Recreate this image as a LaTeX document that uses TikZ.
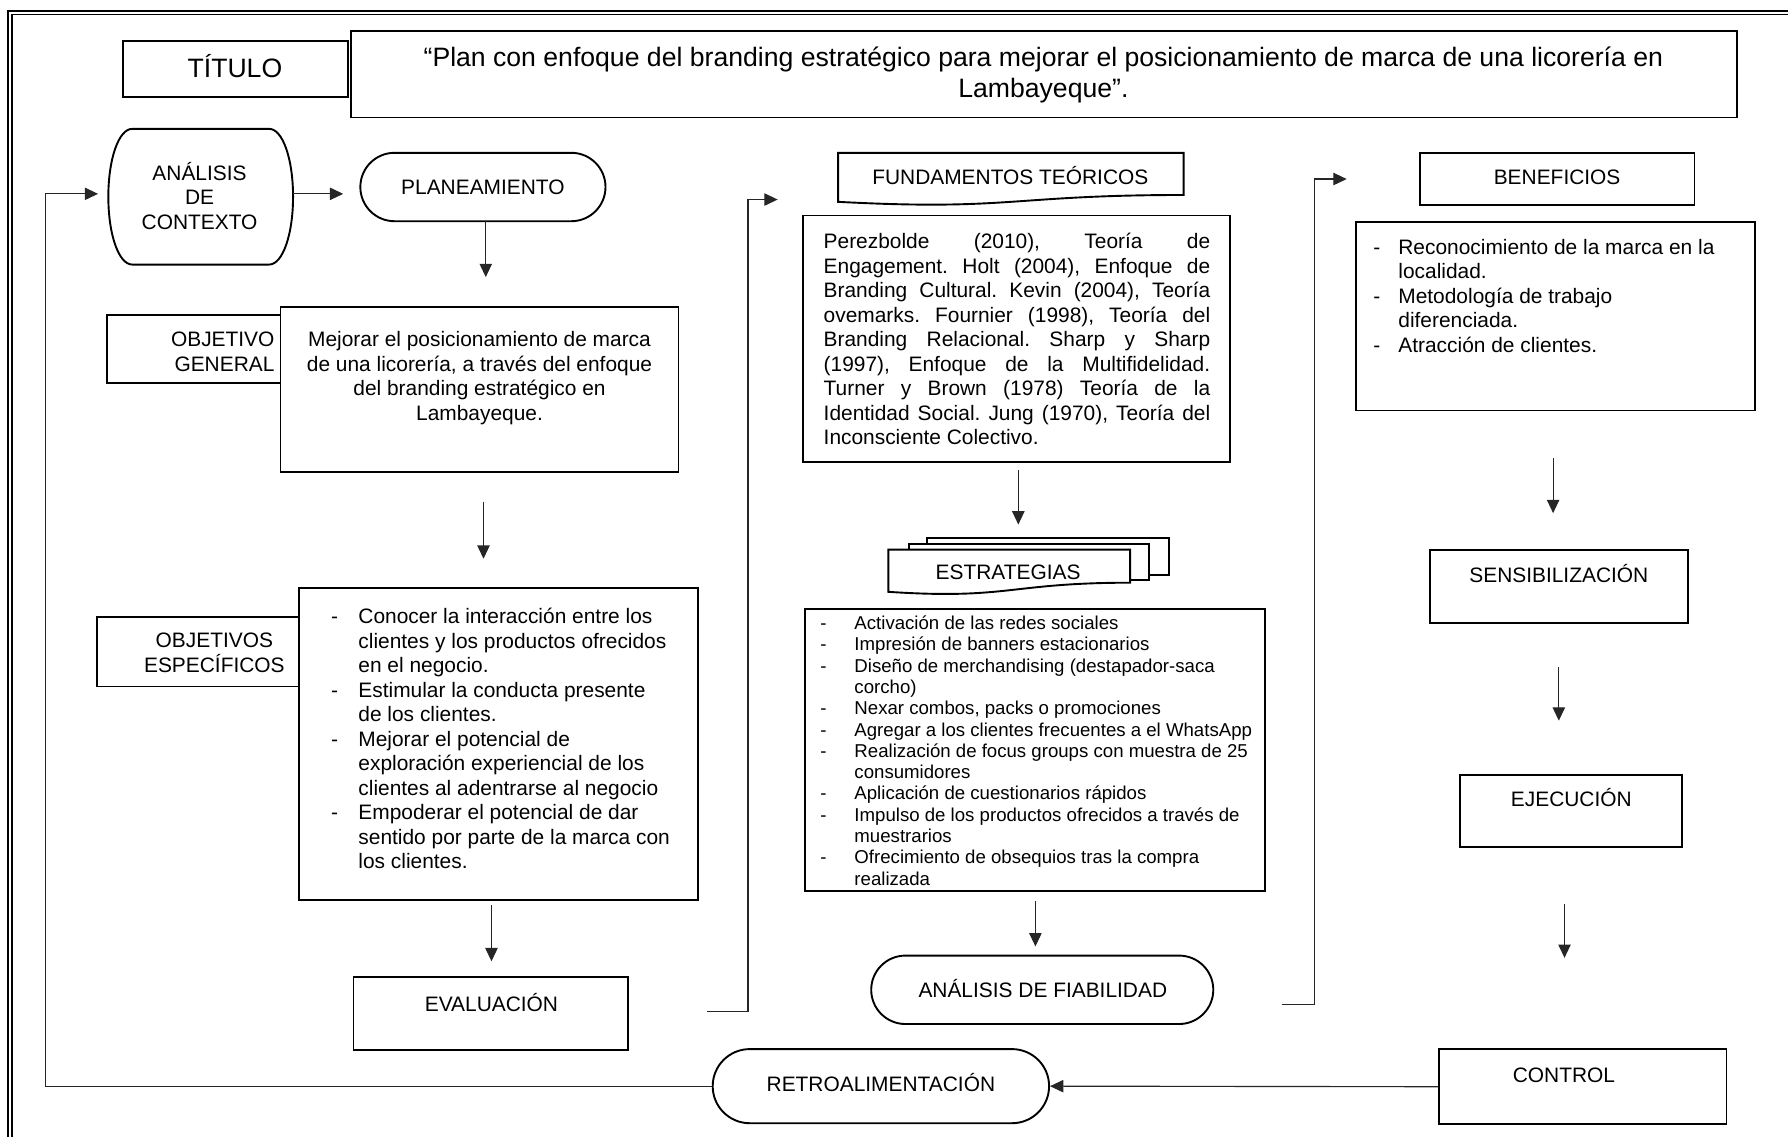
\documentclass[tikz,border=0pt]{standalone}
\usepackage{fontspec}
\setmainfont{Liberation Sans}
\usetikzlibrary{arrows.meta,fit}
\frenchspacing
\newcommand\fmain{\fontsize{11}{12.9}\selectfont}
\newcommand\fsml{\fontsize{9.8}{11.2}\selectfont}
\newcommand\fttl{\fontsize{14}{16.2}\selectfont}
\newcommand\topr[1]{\rule{0pt}{#1}}
\newcommand\itm[2]{\makebox[#1][l]{-}#2}
\newcommand\cnt[2]{\hspace*{#1}#2}
\tikzset{
  bx/.style={draw, line width=1pt, fill=white, inner sep=0pt},
  bxl/.style={draw, line width=1pt, fill=white},
  conn/.style={line width=0.6pt, draw=black!85},
  arr/.style={conn, -{Triangle[length=7pt,width=6.5pt]}},
  txt/.style={inner sep=0pt, font=\fmain},
}
\begin{document}
\begin{tikzpicture}[x=0.6pt,y=-0.6pt]
\useasboundingbox (0,0) rectangle (1568,997);
\clip (0,0) rectangle (1568,997);
% outer frame
\draw[line width=1.3pt] (7,9.5) rectangle (1600,1030);
\draw[line width=0.7pt] (10.5,13) rectangle (1595,1025);

% title
\node[bx, fit={(108,36) (305,85)}] (titbox) {};
\node[txt, font=\fttl, anchor=base] (tittxt) at (206,68.4) {TÍTULO};
\node[bx, fit={(308,27) (1523,103)}] (ttlbox) {};
\node[txt, font=\fttl, align=center, anchor=north] (ttltxt) at (915,35) {\topr{14pt}“Plan con enfoque del branding estratégico para mejorar el posicionamiento de marca de una licorería en\\Lambayeque”.};

% analisis de contexto
\node[inner sep=0pt, fit={(95,113) (257,232)}] (anal) {};
\draw[line width=1pt, fill=white] (116,113) -- (236,113) .. controls (248,113) and (257,139.6) .. (257,172.5) .. controls (257,205.4) and (248,232) .. (236,232) -- (116,232) .. controls (104,232) and (95,205.4) .. (95,172.5) .. controls (95,139.6) and (104,113) .. cycle;
\node[txt, align=center, anchor=north] (analtxt) at (175,139.3) {\topr{11pt}ANÁLISIS\\DE\\CONTEXTO};

% planeamiento
\node[bx, rounded corners=18pt, fit={(316,134) (531,194)}] (plan) {};
\node[txt, anchor=base] (plantxt) at (423.5,170.6) {PLANEAMIENTO};

% objetivo general
\node[bx, fit={(94,276) (252,336)}] (oglab) {};
\node[txt, align=right, anchor=north east] (oglabtxt) at (241,285.3) {\topr{11pt}OBJETIVO\\GENERAL};
\node[bx, fit={(246,269) (595,414)}] (og) {};
\node[txt, align=center, anchor=north] (ogtxt) at (420.5,285.3) {\topr{11pt}Mejorar el posicionamiento de marca\\de una licorería, a través del enfoque\\del branding estratégico en\\Lambayeque.};

% objetivos especificos
\node[bx, fit={(85,541) (264,602)}] (oelab) {};
\node[txt, align=center, anchor=north] (oelabtxt) at (188,549.3) {\topr{11pt}OBJETIVOS\\ESPECÍFICOS};
\node[bx, fit={(262,516) (612,789)}] (oe) {};
\node[txt, align=left, anchor=north west] (oetxt) at (290,528.3) {\topr{11pt}\itm{14.4pt}{Conocer la interacción entre los}\\
\cnt{14.4pt}{clientes y los productos ofrecidos}\\
\cnt{14.4pt}{en el negocio.}\\
\itm{14.4pt}{Estimular la conducta presente}\\
\cnt{14.4pt}{de los clientes.}\\
\itm{14.4pt}{Mejorar el potencial de}\\
\cnt{14.4pt}{exploración experiencial de los}\\
\cnt{14.4pt}{clientes al adentrarse al negocio}\\
\itm{14.4pt}{Empoderar el potencial de dar}\\
\cnt{14.4pt}{sentido por parte de la marca con}\\
\cnt{14.4pt}{los clientes.}};

% evaluacion
\node[bx, fit={(310,857) (551,921)}] (eval) {};
\node[txt, anchor=base] (evaltxt) at (431,886.6) {EVALUACIÓN};

% fundamentos teoricos
\draw[line width=1pt, fill=white] (735,134) -- (1038,134) -- (1038,171) .. controls (886.5,171) and (886.5,185) .. (735,177) -- cycle;
\node[txt, anchor=base] (fund) at (886,161.6) {FUNDAMENTOS TEÓRICOS};
\node[bx, fit={(704,189) (1079,405)}] (perez) {};
\node[txt, text width=203.4pt, align=justify, anchor=north west] (pereztxt) at (722,199.3) {\hyphenpenalty=10000\exhyphenpenalty=10000\frenchspacing\noindent\topr{11pt}Perezbolde (2010), Teoría de\linebreak Engagement. Holt (2004), Enfoque de\linebreak Branding Cultural. Kevin (2004), Teoría\linebreak ovemarks. Fournier (1998), Teoría del\linebreak Branding Relacional. Sharp y Sharp\linebreak (1997), Enfoque de la Multifidelidad.\linebreak Turner y Brown (1978) Teoría de la\linebreak Identidad Social. Jung (1970), Teoría del\linebreak Inconsciente Colectivo.};

% estrategias
\draw[bxl] (813,472) rectangle (1025,504);
\draw[bxl] (797,477) rectangle (1008,509);
\draw[bxl] (779,482) -- (991,482) -- (991,511) .. controls (885,511) and (885,526) .. (779,519) -- cycle;
\node[txt, anchor=base] (estr) at (884,508.6) {ESTRATEGIAS};
\node[bx, fit={(706,534) (1109,781)}] (estl) {};
\node[txt, font=\fsml, align=left, anchor=north west] (estltxt) at (719,535.2) {\topr{10pt}\itm{18pt}{Activación de las redes sociales}\\
\itm{18pt}{Impresión de banners estacionarios}\\
\itm{18pt}{Diseño de merchandising (destapador-saca}\\
\cnt{18pt}{corcho)}\\
\itm{18pt}{Nexar combos, packs o promociones}\\
\itm{18pt}{Agregar a los clientes frecuentes a el WhatsApp}\\
\itm{18pt}{Realización de focus groups con muestra de 25}\\
\cnt{18pt}{consumidores}\\
\itm{18pt}{Aplicación de cuestionarios rápidos}\\
\itm{18pt}{Impulso de los productos ofrecidos a través de}\\
\cnt{18pt}{muestrarios}\\
\itm{18pt}{Ofrecimiento de obsequios tras la compra}\\
\cnt{18pt}{realizada}};

% analisis de fiabilidad
\node[bx, rounded corners=18pt, fit={(764,838) (1064,898)}] (fiab) {};
\node[txt, anchor=base] (fiabtxt) at (914.5,874.6) {ANÁLISIS DE FIABILIDAD};

% beneficios
\node[bx, fit={(1245,134) (1486,180)}] (ben) {};
\node[txt, anchor=base] (bentxt) at (1365.5,161.6) {BENEFICIOS};
\node[bx, fit={(1189,195) (1539,360)}] (benl) {};
\node[txt, align=left, anchor=north west] (benltxt) at (1204,204.3) {\topr{11pt}\itm{13.2pt}{Reconocimiento de la marca en la}\\
\cnt{13.2pt}{localidad.}\\
\itm{13.2pt}{Metodología de trabajo}\\
\cnt{13.2pt}{diferenciada.}\\
\itm{13.2pt}{Atracción de clientes.}};

% sensibilizacion, ejecucion, control
\node[bx, fit={(1254,482) (1480,546)}] (sens) {};
\node[txt, anchor=base] (senstxt) at (1367,510.6) {SENSIBILIZACIÓN};
\node[bx, fit={(1280,680) (1475,743)}] (ejec) {};
\node[txt, anchor=base] (ejectxt) at (1378,707.6) {EJECUCIÓN};
\node[bx, fit={(1262,920) (1514,986)}] (ctrl) {};
\node[txt, anchor=base] (ctrltxt) at (1371.5,949.6) {CONTROL};

% retroalimentacion
\node[bx, rounded corners=19.5pt, fit={(625,920) (920,985)}] (retro) {};
\node[txt, anchor=base] (retrotxt) at (772.5,957.6) {RETROALIMENTACIÓN};

% connector coordinates
\coordinate (fb1) at (40,170);
\coordinate (fb2) at (86,170);
\coordinate (a1s) at (257,170);
\coordinate (a1e) at (301,170);
\coordinate (a2s) at (426,194);
\coordinate (a2e) at (426,243);
\coordinate (a3s) at (424,440);
\coordinate (a3e) at (424,490);
\coordinate (a4s) at (431,794);
\coordinate (a4e) at (431,843);
\coordinate (ev1) at (620,887);
\coordinate (ev2) at (656,175);
\coordinate (ev3) at (682,175);
\coordinate (a5s) at (893,412);
\coordinate (a5e) at (893,460);
\coordinate (a6s) at (908,790);
\coordinate (a6e) at (908,830);
\coordinate (fi1) at (1124,881);
\coordinate (fi2) at (1153,157);
\coordinate (fi3) at (1181,157);
\coordinate (a7s) at (1362,402);
\coordinate (a7e) at (1362,450);
\coordinate (a8s) at (1367,585);
\coordinate (a8e) at (1367,632);
\coordinate (a9s) at (1372,793);
\coordinate (a9e) at (1372,840);

% connectors
\draw[arr] (retro.west) -| (fb1) -- (fb2);
\draw[arr] (a1s) -- (a1e);
\draw[arr] (a2s) -- (a2e);
\draw[arr] (a3s) -- (a3e);
\draw[arr] (a4s) -- (a4e);
\draw[arr] (ev1) -| (ev2) -- (ev3);
\draw[arr] (a5s) -- (a5e);
\draw[arr] (a6s) -- (a6e);
\draw[arr] (fi1) -| (fi2) -- (fi3);
\draw[arr] (a7s) -- (a7e);
\draw[arr] (a8s) -- (a8e);
\draw[arr] (a9s) -- (a9e);
\draw[arr] (ctrl.west) -- (retro.east);
\end{tikzpicture}
\end{document}
